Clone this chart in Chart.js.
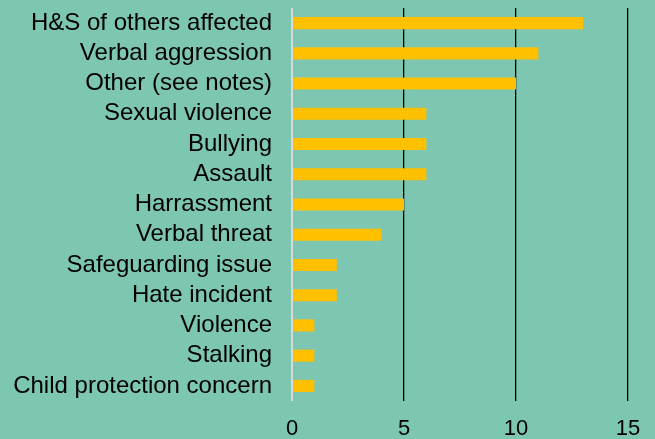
<!DOCTYPE html>
<html>
<head>
<meta charset="utf-8">
<script src="https://cdn.jsdelivr.net/npm/chart.js@4"></script>
<style>
  html, body { margin: 0; padding: 0; background: #7DC6B2; }
  #wrap { width: 655px; height: 439px; }
</style>
</head>
<body>
<div id="wrap"><canvas id="c" width="655" height="439"></canvas></div>
<script>
const categories = [
  'H&S of others affected', 'Verbal aggression', 'Other (see notes)',
  'Sexual violence', 'Bullying', 'Assault', 'Harrassment', 'Verbal threat',
  'Safeguarding issue', 'Hate incident', 'Violence', 'Stalking',
  'Child protection concern'
];
const counts = [13, 11, 10, 6, 6, 6, 5, 4, 2, 2, 1, 1, 1];
const xTicks = [0, 5, 10, 15];

const family = 'Arial, "Liberation Sans", sans-serif';

new Chart(document.getElementById('c'), {
  type: 'bar',
  data: {
    labels: categories,
    datasets: [{
      data: counts,
      backgroundColor: '#FFC000',
      borderWidth: 0,
      barPercentage: 0.8,
      categoryPercentage: 0.5
    }]
  },
  options: {
    indexAxis: 'y',
    responsive: false,
    animation: false,
    layout: { padding: { top: 8, right: 27, left: 0, bottom: 0 } },
    plugins: { legend: { display: false }, tooltip: { enabled: false } },
    scales: {
      x: {
        min: 0, max: 15,
        afterBuildTicks: s => { s.ticks = xTicks.map(v => ({ value: v })); },
        afterFit: s => { s.height = 38; s.paddingLeft = 0; s.paddingRight = 0; },
        border: { display: false },
        grid: {
          drawTicks: false,
          color: c => c.tick && c.tick.value === 0 ? '#D9D9D9' : '#000000',
          lineWidth: c => c.tick && c.tick.value === 0 ? 2 : 1.3
        },
        ticks: { color: '#000', font: { family, size: 22 }, padding: 15, maxRotation: 0 }
      },
      y: {
        afterFit: s => { s.width = 292; s.paddingTop = 0; s.paddingBottom = 0; },
        border: { display: false },
        grid: { display: false, drawTicks: false },
        ticks: { color: '#000', font: { family, size: 24 }, padding: 20, autoSkip: false }
      }
    }
  }
});
</script>
</body>
</html>
